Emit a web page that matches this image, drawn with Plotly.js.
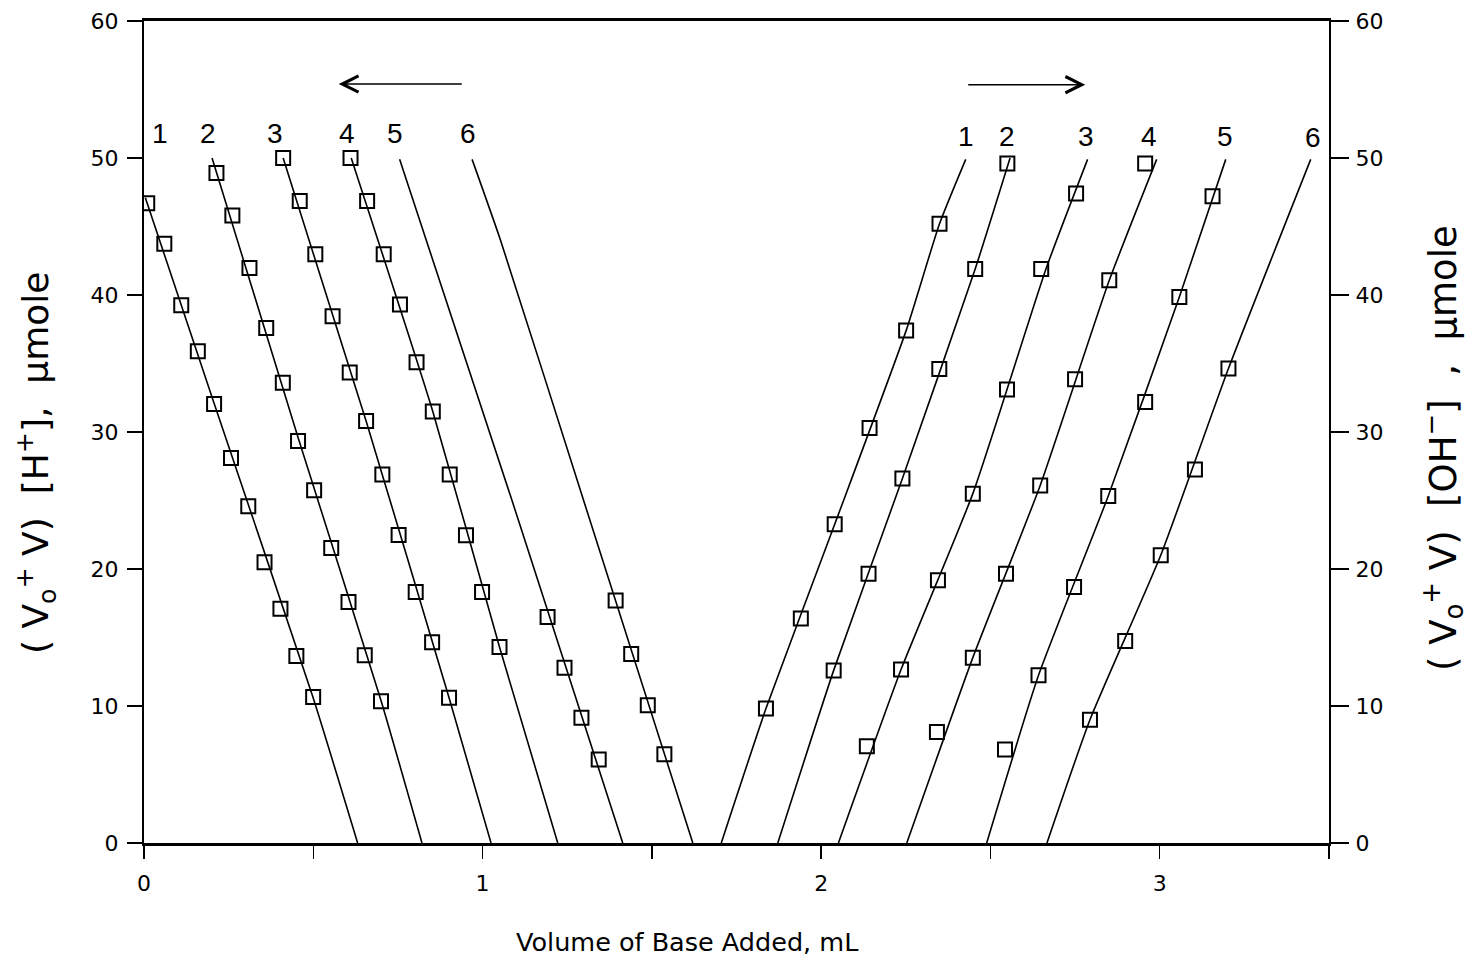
<!DOCTYPE html>
<html>
<head>
<meta charset="utf-8">
<script src="https://cdn.plot.ly/plotly-3.0.1.min.js"></script>
<style>html,body{margin:0;padding:0;background:#fff;}#chart{width:1468px;height:957px;}</style>
</head>
<body>
<div id="chart"></div>
<script>
// ---- Data ----
// Left group: (V0+V)[H+] vs volume of base (mL)
const h1x = [0.0095, 0.060, 0.110, 0.159, 0.207, 0.257, 0.308, 0.356, 0.403, 0.450, 0.4996];
const h1y = [46.7, 43.75, 39.25, 35.9, 32.05, 28.1, 24.58, 20.5, 17.1, 13.65, 10.66];
const h2x = [0.214, 0.261, 0.3115, 0.361, 0.410, 0.455, 0.5025, 0.553, 0.604, 0.652, 0.700];
const h2y = [48.9, 45.8, 41.97, 37.6, 33.6, 29.34, 25.74, 21.53, 17.6, 13.7, 10.34];
const h3x = [0.411, 0.460, 0.506, 0.557, 0.6076, 0.656, 0.704, 0.752, 0.8025, 0.851, 0.901];
const h3y = [50.0, 46.86, 42.97, 38.45, 34.34, 30.8, 26.9, 22.48, 18.32, 14.65, 10.6];
const h4x = [0.610, 0.659, 0.708, 0.756, 0.805, 0.853, 0.903, 0.951, 0.9985, 1.050];
const h4y = [50.0, 46.86, 42.97, 39.3, 35.1, 31.5, 26.9, 22.46, 18.32, 14.3];
const h5x = [1.192, 1.242, 1.292, 1.343];
const h5y = [16.5, 12.8, 9.15, 6.09];
const h6x = [1.393, 1.439, 1.488, 1.537];
const h6y = [17.7, 13.8, 10.05, 6.47];

// Left group fitted curves
const fh1x = [0.004, 0.207, 0.4996, 0.631];  const fh1y = [47.1, 32.1, 10.6, 0];
const fh2x = [0.201, 0.455, 0.700, 0.821];   const fh2y = [50.0, 29.6, 10.4, 0];
const fh3x = [0.411, 0.656, 0.901, 1.025];   const fh3y = [50.0, 30.8, 10.6, 0];
const fh4x = [0.612, 0.853, 1.050, 1.222];   const fh4y = [50.0, 31.5, 14.3, 0];
const fh5x = [0.755, 1.087, 1.414];          const fh5y = [49.9, 25.0, 0];
const fh6x = [0.969, 1.053, 1.2985, 1.621];  const fh6y = [49.9, 44.0, 25.0, 0];

// Right group: (V0+V)[OH-] vs volume of base (mL)
const o1x = [1.837, 1.940, 2.040, 2.143, 2.251, 2.3496];
const o1y = [9.81, 16.38, 23.26, 30.3, 37.4, 45.2];
const o2x = [2.037, 2.140, 2.240, 2.349, 2.455, 2.550];
const o2y = [12.6, 19.66, 26.6, 34.6, 41.9, 49.6];
const o3x = [2.135, 2.236, 2.345, 2.448, 2.549, 2.650, 2.753];
const o3y = [7.06, 12.66, 19.18, 25.5, 33.1, 41.9, 47.4];
const o4x = [2.342, 2.448, 2.546, 2.647, 2.750, 2.851, 2.957];
const o4y = [8.1, 13.53, 19.66, 26.1, 33.85, 41.07, 49.6];
const o5x = [2.543, 2.642, 2.747, 2.848, 2.957, 3.058, 3.156];
const o5y = [6.82, 12.24, 18.69, 25.33, 32.19, 39.85, 47.2];
const o6x = [2.794, 2.898, 3.003, 3.104, 3.203];
const o6y = [9.0, 14.74, 21.0, 27.26, 34.63];

// Right group fitted curves
const fo1x = [1.705, 1.837, 2.040, 2.251, 2.3496, 2.427]; const fo1y = [0, 9.81, 23.26, 37.4, 45.2, 49.9];
const fo2x = [1.872, 2.037, 2.240, 2.455, 2.558];         const fo2y = [0, 12.6, 26.6, 41.9, 50.0];
const fo3x = [2.051, 2.236, 2.448, 2.664, 2.787];         const fo3y = [0, 12.66, 25.5, 41.9, 49.9];
const fo4x = [2.253, 2.448, 2.647, 2.851, 2.991];         const fo4y = [0, 13.53, 26.1, 41.07, 49.9];
const fo5x = [2.489, 2.642, 2.848, 3.058, 3.195];         const fo5y = [0, 12.24, 25.33, 39.85, 49.9];
const fo6x = [2.667, 2.794, 3.003, 3.203, 3.446];         const fo6y = [0, 9.0, 21.0, 34.63, 49.9];

// Curve number labels
const curveNames = ['1', '2', '3', '4', '5', '6'];
const leftLabelX = [0.0466, 0.1886, 0.388, 0.600, 0.7405, 0.957];
const leftLabelY = 51.78;
const rightLabelX = [2.427, 2.550, 2.782, 2.967, 3.193, 3.454];
const rightLabelY = [51.6, 51.6, 51.6, 51.6, 51.6, 51.5];

// Direction arrows (tail -> head), data units
const leftArrow = {tail: [0.943, 55.4], head: [0.575, 55.4]};
const rightArrow = {tail: [2.430, 55.35], head: [2.780, 55.35]};

// Axis ticks
const xTickVals = [0, 0.5, 1, 1.5, 2, 2.5, 3, 3.5];
const xTickText = ['0', '', '1', '', '2', '', '3', ''];
const yTickVals = [0, 10, 20, 30, 40, 50, 60];

// Text
const NB = '\u00a0';
const leftTitle = '(' + NB + 'V<sub>o</sub><sup>+</sup>' + NB + 'V)' + NB + NB + '[H<sup>+</sup>],' + NB + NB + 'μmole';
const rightTitle = '(' + NB + 'V<sub>o</sub><sup>+</sup>' + NB + 'V)' + NB + NB + '[OH<sup>−</sup>]' + NB + NB + ',' + NB + NB + 'μmole';
const xTitle = 'Volume of Base Added, mL';

// ---- Build traces ----
const FONT = 'Liberation Sans, Arial, sans-serif';
const WIDE = 'DejaVu Sans, Verdana, sans-serif';
const traces = [];
const markerStyle = {symbol: 'square-open', size: 14, color: '#000', line: {width: 2, color: '#000'}};
const fitLine = {color: '#000', width: 1.6, shape: 'spline', smoothing: 0.5};

[[fh1x, fh1y], [fh2x, fh2y], [fh3x, fh3y], [fh4x, fh4y], [fh5x, fh5y], [fh6x, fh6y]].forEach(p => {
  traces.push({x: p[0], y: p[1], mode: 'lines', line: fitLine, xaxis: 'x', yaxis: 'y', hoverinfo: 'skip'});
});
[[h1x, h1y], [h2x, h2y], [h3x, h3y], [h4x, h4y], [h5x, h5y], [h6x, h6y]].forEach(p => {
  traces.push({x: p[0], y: p[1], mode: 'markers', marker: markerStyle, xaxis: 'x', yaxis: 'y'});
});
[[fo1x, fo1y], [fo2x, fo2y], [fo3x, fo3y], [fo4x, fo4y], [fo5x, fo5y], [fo6x, fo6y]].forEach(p => {
  traces.push({x: p[0], y: p[1], mode: 'lines', line: fitLine, xaxis: 'x', yaxis: 'y2', hoverinfo: 'skip'});
});
[[o1x, o1y], [o2x, o2y], [o3x, o3y], [o4x, o4y], [o5x, o5y], [o6x, o6y]].forEach(p => {
  traces.push({x: p[0], y: p[1], mode: 'markers', marker: markerStyle, xaxis: 'x', yaxis: 'y2'});
});

// ---- Annotations ----
const annotations = [];
curveNames.forEach((n, i) => {
  annotations.push({x: leftLabelX[i], y: leftLabelY, xref: 'x', yref: 'y', text: n, showarrow: false,
    font: {family: FONT, size: 28, color: '#000'}});
  annotations.push({x: rightLabelX[i], y: rightLabelY[i], xref: 'x', yref: 'y', text: n, showarrow: false,
    font: {family: FONT, size: 28, color: '#000'}});
});
[leftArrow, rightArrow].forEach(a => {
  annotations.push({x: a.head[0], y: a.head[1], ax: a.tail[0], ay: a.tail[1], xref: 'x', yref: 'y',
    axref: 'x', ayref: 'y', text: '', showarrow: true, arrowhead: 5, arrowsize: 2, arrowwidth: 1.6,
    arrowcolor: '#000', standoff: 0, startstandoff: 0});
});
// Axis titles (pixel centres converted to paper fractions of the 1185x822 plot area)
annotations.push({xref: 'paper', yref: 'paper', x: (36 - 144) / 1185, y: (843 - 463) / 822,
  xanchor: 'center', yanchor: 'middle', textangle: -90, showarrow: false,
  text: leftTitle, font: {family: WIDE, size: 36, color: '#000'}});
annotations.push({xref: 'paper', yref: 'paper', x: (1442 - 144) / 1185, y: (843 - 448) / 822,
  xanchor: 'center', yanchor: 'middle', textangle: -90, showarrow: false,
  text: rightTitle, font: {family: WIDE, size: 37, color: '#000'}});
annotations.push({xref: 'paper', yref: 'paper', x: (687 - 144) / 1185, y: (843 - 942) / 822,
  xanchor: 'center', yanchor: 'middle', showarrow: false,
  text: xTitle, font: {family: WIDE, size: 25.5, color: '#000'}});

const layout = {
  width: 1468, height: 957,
  margin: {l: 144, r: 139, t: 21, b: 114, pad: 0},
  paper_bgcolor: '#fff', plot_bgcolor: '#fff',
  showlegend: false,
  font: {family: FONT, color: '#000'},
  xaxis: {range: [0, 3.5], showgrid: false, zeroline: false, showline: true, linewidth: 3, linecolor: '#000',
    mirror: true, ticks: 'outside', ticklen: 13, tickwidth: 1.5, tickcolor: '#000',
    tickvals: xTickVals, ticktext: xTickText, tickfont: {family: WIDE, size: 22, color: '#000'}, ticklabelstandoff: 6},
  yaxis: {range: [0, 60], showgrid: false, zeroline: false, showline: true, linewidth: 2, linecolor: '#000',
    ticks: 'outside', ticklen: 15, tickwidth: 2, tickcolor: '#000', tickvals: yTickVals,
    tickfont: {family: WIDE, size: 22, color: '#000'}, ticklabelstandoff: 4},
  yaxis2: {range: [0, 60], overlaying: 'y', side: 'right', anchor: 'x', showgrid: false, zeroline: false,
    showline: true, linewidth: 2, linecolor: '#000', ticks: 'outside', ticklen: 18, tickwidth: 2,
    tickcolor: '#000', tickvals: yTickVals, tickfont: {family: WIDE, size: 22, color: '#000'}, ticklabelstandoff: 2},
  annotations: annotations
};

Plotly.newPlot('chart', traces, layout, {staticPlot: true, displayModeBar: false});
</script>
</body>
</html>
